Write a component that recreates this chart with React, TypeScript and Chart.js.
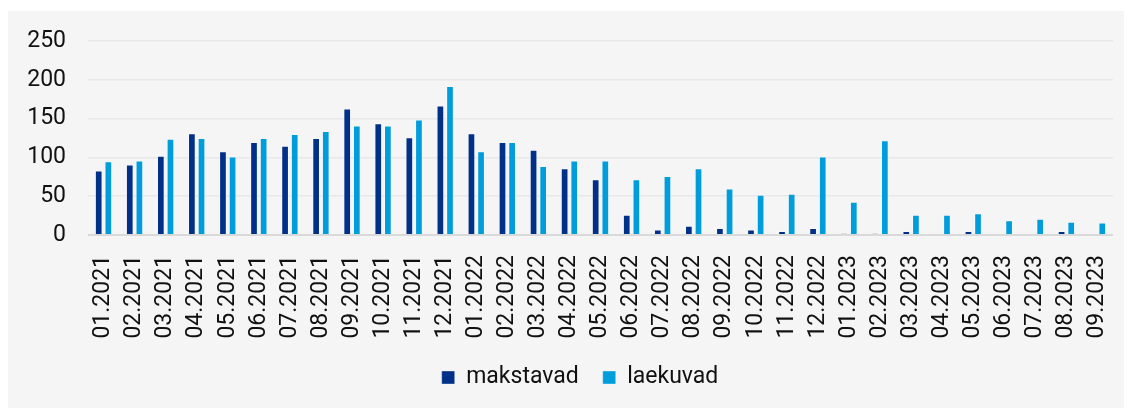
import React, { useEffect, useRef } from "react";
import { Chart, registerables } from "chart.js";

Chart.register(...registerables);

const categories = [
  "01.2021", "02.2021", "03.2021", "04.2021", "05.2021", "06.2021", "07.2021", "08.2021", "09.2021", "10.2021", "11.2021", "12.2021",
  "01.2022", "02.2022", "03.2022", "04.2022", "05.2022", "06.2022", "07.2022", "08.2022", "09.2022", "10.2022", "11.2022", "12.2022",
  "01.2023", "02.2023", "03.2023", "04.2023", "05.2023", "06.2023", "07.2023", "08.2023", "09.2023",
];

const makstavad = [
  83, 91, 102, 131, 108, 120, 115, 125, 163, 144, 126, 167,
  131, 120, 110, 86, 72, 26, 7, 12, 9, 7, 5, 9,
  2, 2, 5, 1, 5, 1, 1, 5, 1,
];

const laekuvad = [
  95, 96, 124, 125, 101, 125, 130, 134, 141, 141, 149, 192,
  108, 120, 89, 96, 96, 72, 76, 86, 60, 52, 53, 101,
  43, 122, 26, 26, 28, 19, 21, 17, 16,
];

const yTicks = [0, 50, 100, 150, 200, 250];

const seriesNames = ["makstavad", "laekuvad"];

export default function App() {
  const ref = useRef<HTMLCanvasElement>(null);

  useEffect(() => {
    document.documentElement.style.overflow = "hidden";
    document.body.style.overflow = "hidden";
    const canvas = ref.current;
    if (!canvas) return;
    const font = { family: "Roboto", size: 23 };
    const legendShift = {
      id: "legendShift",
      afterLayout(c: any) {
        if (c.legend) c.legend.left += 39;
      },
    };
    const chart = new Chart(canvas, {
      type: "bar",
      data: {
        labels: categories,
        datasets: [
          {
            label: seriesNames[0],
            data: makstavad,
            backgroundColor: "#003087",
            borderColor: "rgba(255,255,255,0.35)",
            borderWidth: 1,
            categoryPercentage: 0.62,
            barPercentage: 0.8,
          },
          {
            label: seriesNames[1],
            data: laekuvad,
            backgroundColor: "#009DDC",
            borderColor: "rgba(255,255,255,0.35)",
            borderWidth: 1,
            categoryPercentage: 0.62,
            barPercentage: 0.8,
          },
        ],
      },
      plugins: [legendShift],
      options: {
        responsive: false,
        animation: false,
        devicePixelRatio: 1,
        layout: { padding: { top: 30, right: 19, bottom: 9, left: 0 } },
        plugins: {
          legend: {
            position: "bottom",
            labels: {
              font,
              color: "#111",
              boxWidth: 13,
              boxHeight: 13,
              padding: 24,
            },
          },
          tooltip: { enabled: false },
        },
        scales: {
          x: {
            grid: { display: false, drawTicks: false },
            border: { display: false },
            ticks: {
              font,
              color: "#111",
              minRotation: 90,
              maxRotation: 90,
              autoSkip: false,
              padding: 20,
            },
            afterFit: (scale: any) => {
              scale.height = 107;
              scale.paddingLeft = 0;
              scale.paddingRight = 0;
            },
          },
          y: {
            min: 0,
            max: 250,
            afterBuildTicks: (scale: any) => {
              scale.ticks = yTicks.map((v) => ({ value: v }));
            },
            grid: {
              drawTicks: false,
              color: (ctx: any) => (ctx.tick && ctx.tick.value === 0 ? "#d9d9d9" : "#e8e8e8"),
              lineWidth: (ctx: any) => (ctx.tick && ctx.tick.value === 0 ? 2 : 1.5),
            },
            border: { display: false },
            ticks: {
              font,
              color: "#111",
              padding: 22,
            },
            afterFit: (scale: any) => {
              scale.width = 80;
              scale.paddingTop = 0;
              scale.paddingBottom = 0;
            },
          },
        },
      },
    });
    return () => chart.destroy();
  }, []);

  return (
    <div style={{ paddingTop: 3 }}>
      <div style={{ width: 1124, height: 397, background: "#f5f5f5" }}>
        <canvas ref={ref} width={1124} height={397} style={{ display: "block" }} />
      </div>
    </div>
  );
}
